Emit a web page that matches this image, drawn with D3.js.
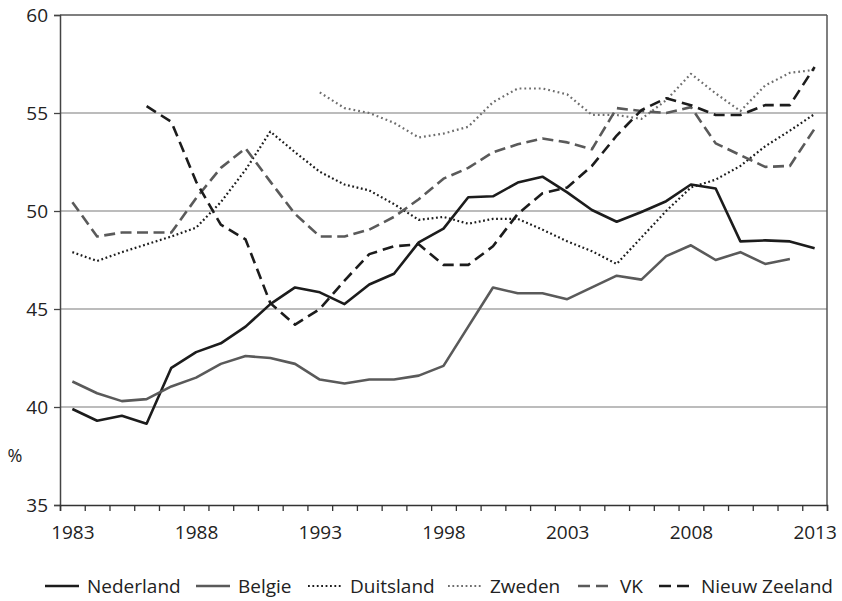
<!DOCTYPE html>
<html>
<head>
<meta charset="utf-8">
<script src="https://cdn.jsdelivr.net/npm/d3@7"></script>
<style>
  body { margin: 0; background: #fff; }
  text { font-family: "Open Sans", sans-serif; fill: #222; }
</style>
</head>
<body>
<script>
const years = d3.range(1983, 2014);
const yTicks = [35, 40, 45, 50, 55, 60];
const xLabels = [1983, 1988, 1993, 1998, 2003, 2008, 2013];

// values per year 1983..2013, null = no data
const nederland = [39.9, 39.3, 39.55, 39.15, 42.0, 42.8, 43.25, 44.1, 45.25, 46.1, 45.85, 45.25, 46.25, 46.8, 48.4, 49.1, 50.7, 50.75, 51.45, 51.75, 50.95, 50.05, 49.45, 49.95, 50.5, 51.35, 51.15, 48.45, 48.5, 48.45, 48.1];
const belgie = [41.3, 40.7, 40.3, 40.4, 41.05, 41.5, 42.2, 42.6, 42.5, 42.2, 41.4, 41.2, 41.4, 41.4, 41.6, 42.1, 44.1, 46.1, 45.8, 45.8, 45.5, 46.1, 46.7, 46.5, 47.7, 48.25, 47.5, 47.9, 47.3, 47.55, null];
const duitsland = [47.9, 47.45, 47.9, 48.3, 48.7, 49.15, 50.45, 52.1, 54.05, 53.0, 52.0, 51.35, 51.05, 50.35, 49.55, 49.7, 49.35, 49.6, 49.6, 49.05, 48.45, 47.95, 47.3, 48.65, 50.0, 51.2, 51.6, 52.3, 53.3, 54.1, 54.95];
const zweden = [null, null, null, null, null, null, null, null, null, null, 56.05, 55.25, 55.0, 54.5, 53.75, 53.95, 54.3, 55.55, 56.25, 56.25, 55.95, 54.9, 54.9, 54.7, 55.65, 57.0, 56.0, 55.1, 56.4, 57.05, 57.2];
const vk = [50.45, 48.7, 48.9, 48.9, 48.9, 50.65, 52.2, 53.2, 51.5, 49.85, 48.7, 48.7, 49.05, 49.7, 50.6, 51.65, 52.2, 53.0, 53.4, 53.7, 53.5, 53.15, 55.25, 55.1, 55.0, 55.3, 53.45, 52.85, 52.25, 52.3, 54.2];
const nieuwZeeland = [null, null, null, 55.35, 54.55, 51.5, 49.3, 48.55, 45.3, 44.2, 45.0, 46.45, 47.8, 48.2, 48.3, 47.25, 47.25, 48.2, 49.85, 50.9, 51.2, 52.3, 53.85, 55.15, 55.75, 55.4, 54.9, 54.9, 55.4, 55.4, 57.35];

const series = [
  { name: "Nederland", values: nederland, color: "#1c1c1c", dash: null, width: 2.6, lx: 45 },
  { name: "Belgie", values: belgie, color: "#5a5a5a", dash: null, width: 2.6, lx: 196 },
  { name: "Duitsland", values: duitsland, color: "#1c1c1c", dash: "1.8,2.6", width: 2.2, lx: 308 },
  { name: "Zweden", values: zweden, color: "#6e6e6e", dash: "1.8,3", width: 2.2, lx: 448 },
  { name: "VK", values: vk, color: "#5a5a5a", dash: "11,5.5", width: 2.6, lx: 578 },
  { name: "Nieuw Zeeland", values: nieuwZeeland, color: "#1c1c1c", dash: "11,6", width: 2.6, lx: 659 }
];

const W = 842, H = 601;
const mLeft = 60, mRight = 827, mTop = 15, mBottom = 505;

const svg = d3.select("body").append("svg")
  .attr("width", W)
  .attr("height", H);

const x = d3.scaleLinear().domain([1982.5, 2013.5]).range([mLeft, mRight]);
const y = d3.scaleLinear().domain([35, 60]).range([mBottom, mTop]);

// grid
svg.append("g")
  .selectAll("line")
  .data(yTicks.filter(d => d > 35 && d < 60))
  .enter().append("line")
  .attr("x1", mLeft).attr("x2", mRight)
  .attr("y1", d => y(d)).attr("y2", d => y(d))
  .attr("stroke", "#a6a6a6")
  .attr("stroke-width", 1.5);

// box top/right
svg.append("line")
  .attr("x1", mLeft).attr("x2", mRight).attr("y1", mTop).attr("y2", mTop)
  .attr("stroke", "#555").attr("stroke-width", 1.5);
svg.append("line")
  .attr("x1", mRight).attr("x2", mRight).attr("y1", mTop).attr("y2", mBottom)
  .attr("stroke", "#555").attr("stroke-width", 1.5);

// y axis
const yAxis = svg.append("g")
  .attr("transform", `translate(${mLeft},0)`)
  .call(d3.axisLeft(y).tickValues(yTicks).tickSize(6).tickPadding(6));
yAxis.select(".domain").attr("stroke", "#444").attr("stroke-width", 1.5);
yAxis.selectAll(".tick line").attr("stroke", "#444").attr("stroke-width", 1.3);
yAxis.selectAll("text").style("font-size", "19px").attr("fill", "#222");

// x axis ticks at year boundaries
const xTickAxis = svg.append("g")
  .attr("transform", `translate(0,${mBottom})`)
  .call(d3.axisBottom(x).tickValues(d3.range(1982.5, 2014, 1)).tickSize(6).tickFormat(""));
xTickAxis.select(".domain").attr("stroke", "#333").attr("stroke-width", 1.5);
xTickAxis.selectAll(".tick line").attr("stroke", "#333").attr("stroke-width", 1.3);

const xLabelAxis = svg.append("g")
  .attr("transform", `translate(0,${mBottom})`)
  .call(d3.axisBottom(x).tickValues(xLabels).tickSize(0).tickPadding(21).tickFormat(d3.format("d")));
xLabelAxis.select(".domain").remove();
xLabelAxis.selectAll("text").style("font-size", "19px").attr("fill", "#222");

svg.append("text")
  .attr("x", 15).attr("y", 462)
  .attr("text-anchor", "middle")
  .style("font-size", "18px")
  .text("%");

// lines
const line = d3.line()
  .defined(d => d.v != null)
  .x(d => x(d.year))
  .y(d => y(d.v));

svg.append("g")
  .selectAll("path")
  .data(series)
  .enter().append("path")
  .attr("fill", "none")
  .attr("stroke", d => d.color)
  .attr("stroke-width", d => d.width)
  .attr("stroke-dasharray", d => d.dash)
  .attr("stroke-linejoin", "round")
  .attr("d", d => line(d.values.map((v, i) => ({ year: years[i], v: v }))));

// legend
const legend = svg.append("g")
  .selectAll("g")
  .data(series)
  .enter().append("g")
  .attr("transform", d => `translate(${d.lx},586)`);

legend.append("line")
  .attr("x1", 0).attr("x2", 34)
  .attr("stroke", d => d.color)
  .attr("stroke-width", d => d.width)
  .attr("stroke-dasharray", d => d.dash ? (d.dash.startsWith("1.8") ? "1.8,2.6" : "12,6") : null);

legend.append("text")
  .attr("x", 42)
  .attr("y", 7)
  .style("font-size", "19px")
  .text(d => d.name);
</script>
</body>
</html>
